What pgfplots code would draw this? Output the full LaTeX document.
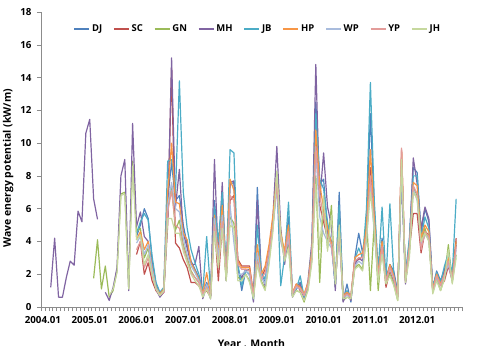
\documentclass[border=0pt]{standalone}
\usepackage{pgfplots}
\usepackage{pgfplotstable}
\pgfplotsset{compat=1.18}
\usepackage{fontspec}
\setmainfont{Open Sans}
\definecolor{cDJ}{HTML}{4F81BD}
\definecolor{cSC}{HTML}{C0504D}
\definecolor{cGN}{HTML}{9BBB59}
\definecolor{cMH}{HTML}{8064A2}
\definecolor{cJB}{HTML}{4BACC6}
\definecolor{cHP}{HTML}{F79646}
\definecolor{cWP}{HTML}{A9BCDD}
\definecolor{cYP}{HTML}{E39C9A}
\definecolor{cJH}{HTML}{C6D89E}
\pgfplotstableread{
m DJ SC GN MH JB HP WP YP JH
2 nan nan nan 1.2 nan nan nan nan nan
3 nan nan nan 4.2 nan nan nan nan nan
4 nan nan nan 0.6 nan nan nan nan nan
5 nan nan nan 0.6 nan nan nan nan nan
6 nan nan nan 1.8 nan nan nan nan nan
7 nan nan nan 2.8 nan nan nan nan nan
8 nan nan nan 2.55 nan nan nan nan nan
9 nan nan nan 5.85 nan nan nan nan nan
10 nan nan nan 5.2 nan nan nan nan nan
11 nan nan nan 10.6 nan nan nan nan nan
12 nan nan nan 11.45 nan nan nan nan nan
13 nan nan 1.75 6.6 nan nan nan nan nan
14 nan nan 4.1 5.35 nan nan nan nan nan
15 nan nan 1.1 nan nan nan nan nan nan
16 nan nan 2.5 0.9 nan nan nan nan nan
17 nan nan 0.6 0.4 nan nan nan nan 0.7
18 nan nan 1.0 1.2 nan nan nan nan 1.1
19 nan nan 2.2 2.4 nan nan nan nan 2.1
20 nan nan 6.9 8.0 nan nan nan nan 6.8
21 nan nan 7.0 9.0 nan nan nan nan 6.9
22 nan nan 1.2 1.0 nan nan nan nan 1.1
23 nan nan 8.9 11.2 nan nan nan nan 8.6
24 4.3 3.2 4.6 4.9 4.5 4.1 3.9 3.5 4.1
25 5.0 4.0 4.8 5.8 5.2 4.6 4.3 4.0 4.4
26 6.0 2.0 3.0 4.3 5.7 3.5 3.2 2.4 2.6
27 5.4 2.7 3.6 4.0 5.3 4.0 3.8 3.0 3.2
28 2.9 1.6 2.2 2.5 3.1 2.4 2.3 1.9 2.0
29 1.4 1.0 1.2 1.1 1.5 1.2 1.2 1.1 1.1
30 0.8 0.7 0.7 0.6 0.9 0.8 0.7 0.7 0.7
31 1.1 0.9 1.0 0.9 1.2 1.1 1.0 0.9 1.0
32 6.6 5.0 6.0 5.5 8.9 7.0 6.2 5.8 5.4
33 8.8 14.6 7.4 15.2 9.0 10.0 7.6 7.1 5.4
34 6.5 3.9 4.7 6.1 7.0 6.4 6.0 5.0 4.5
35 6.8 3.6 5.3 8.4 13.8 6.3 5.8 4.8 4.5
36 5.0 2.9 3.8 4.5 7.0 4.5 4.2 3.6 3.4
37 3.8 2.4 3.0 3.6 4.8 4.1 3.2 2.8 2.7
38 2.8 1.5 2.2 2.6 3.5 2.7 2.5 2.1 2.0
39 2.3 1.5 1.8 2.6 2.7 2.2 2.1 1.8 1.6
40 1.8 1.3 1.5 3.7 2.0 1.7 1.6 1.5 1.3
41 0.8 0.8 0.7 0.5 0.9 0.8 0.7 0.8 0.6
42 1.5 1.0 1.2 1.3 4.3 2.1 1.4 1.2 1.1
43 0.8 0.6 0.6 0.5 1.0 0.8 0.7 0.7 0.5
44 6.5 5.0 5.3 9.0 6.1 5.6 5.4 5.0 4.6
45 3.5 1.6 3.0 2.8 4.0 3.2 3.0 2.5 2.4
46 6.5 5.0 5.5 7.6 7.0 6.2 5.6 5.2 4.8
47 2.0 1.8 1.6 1.6 2.2 2.0 1.9 1.8 1.6
48 7.5 6.5 5.5 7.6 9.6 7.8 6.2 6.8 5.0
49 7.6 6.8 5.1 7.7 9.4 7.1 3.9 6.5 4.8
50 2.5 2.9 1.8 2.2 2.6 2.8 2.0 2.6 1.6
51 1.0 2.5 1.7 1.8 1.3 2.4 2.0 2.3 1.6
52 2.2 2.5 2.0 2.3 2.2 2.4 2.2 2.3 2.0
53 2.3 2.5 1.6 2.2 2.0 2.4 1.9 2.2 1.5
54 0.4 0.8 0.6 0.3 0.5 0.7 0.6 0.7 0.5
55 7.3 3.2 3.0 6.5 5.0 3.8 3.3 2.8 2.6
56 2.0 1.8 1.6 2.0 2.1 2.0 1.9 1.7 1.5
57 1.5 2.3 1.1 1.3 1.7 2.5 1.4 2.1 1.0
58 3.0 3.5 2.8 3.0 3.2 3.8 3.0 3.4 2.6
59 5.0 5.3 5.0 5.5 5.2 5.6 4.8 5.0 4.6
60 7.8 7.6 8.2 9.8 7.8 8.0 7.2 7.5 8.3
61 4.2 4.3 4.6 4.8 1.3 4.5 4.0 4.2 4.4
62 3.3 3.0 3.0 2.6 3.1 3.4 3.0 3.1 2.8
63 5.5 4.5 3.8 4.5 6.4 5.0 4.3 4.6 3.6
64 0.7 0.8 0.7 0.6 0.9 0.9 0.8 0.8 0.6
65 1.2 1.4 1.0 1.1 1.1 1.4 1.2 1.3 1.0
66 1.5 1.0 0.9 1.4 1.9 1.2 1.1 1.1 0.9
67 0.5 0.7 0.3 0.5 0.6 0.8 0.7 0.7 0.4
68 1.3 1.3 1.1 1.6 1.4 1.5 1.3 1.3 1.0
69 3.5 3.0 3.0 4.0 3.6 3.5 3.0 3.2 2.7
70 12.5 10.5 8.0 14.8 11.8 10.8 9.5 9.8 7.5
71 7.5 6.2 1.5 6.5 7.8 7.5 5.5 6.8 3.5
72 7.8 5.2 6.5 9.4 7.2 6.0 4.5 5.5 6.8
73 4.5 4.2 3.6 6.1 5.2 4.8 4.0 4.3 3.4
74 4.0 3.9 6.2 5.0 3.8 3.9 3.6 3.8 5.6
75 1.2 1.6 1.3 1.0 1.5 1.8 1.6 1.7 1.4
76 7.0 4.6 5.6 5.8 6.2 4.8 4.2 4.5 5.0
77 0.4 0.6 0.4 0.3 0.6 0.7 0.6 0.6 0.5
78 1.4 0.8 0.6 0.9 1.0 0.9 0.7 0.8 0.6
79 0.3 0.6 0.5 0.4 0.6 0.7 0.6 0.6 0.5
80 3.0 2.8 2.4 2.6 2.9 3.0 2.5 2.8 2.3
81 4.5 2.9 2.6 3.0 3.6 3.2 2.8 3.0 2.5
82 3.3 3.1 2.3 2.8 3.0 3.3 2.6 3.0 2.2
83 5.0 4.2 5.5 4.6 6.0 4.8 4.0 4.4 4.2
84 11.8 8.5 1.0 8.0 13.7 9.6 7.5 8.0 7.0
85 6.0 5.0 5.2 5.2 6.5 5.5 4.5 5.0 4.8
86 2.0 1.8 1.0 1.7 2.2 2.0 1.8 1.9 1.5
87 4.2 3.6 3.8 3.8 6.1 4.0 3.5 3.7 3.2
88 1.6 1.2 1.6 1.8 1.7 1.6 1.6 1.5 1.4
89 2.6 2.2 2.0 2.5 6.3 2.6 2.3 2.4 1.9
90 2.2 1.6 1.4 2.0 2.0 1.9 1.7 1.8 1.3
91 0.9 0.6 0.4 0.8 0.8 0.7 0.6 0.6 0.4
92 8.5 9.6 8.8 8.0 8.6 9.5 8.4 9.7 9.0
93 1.8 1.5 1.6 1.4 2.0 1.7 1.8 1.6 1.5
94 4.0 3.5 3.2 3.8 4.2 3.7 3.5 3.6 3.0
95 8.5 5.7 7.3 9.1 8.0 7.6 7.2 7.4 7.0
96 8.2 5.7 6.8 7.5 8.0 7.4 6.5 6.9 6.6
97 4.5 3.3 4.0 4.8 4.2 4.2 3.8 3.5 4.0
98 6.0 4.6 4.8 6.1 5.5 5.0 4.4 4.6 4.5
99 5.2 4.4 4.0 5.4 4.8 4.6 4.2 4.3 4.0
100 1.2 1.0 0.9 1.1 1.2 1.1 1.0 1.0 0.8
101 2.2 1.8 1.7 2.0 2.1 2.0 1.8 1.9 1.6
102 1.6 1.3 1.0 1.4 1.5 1.4 1.3 1.3 1.0
103 2.3 1.6 1.8 2.2 2.5 2.0 1.9 2.0 1.7
104 3.0 2.5 3.8 2.8 3.3 3.0 2.6 2.8 3.5
105 1.8 1.6 1.5 1.8 2.0 1.7 1.6 1.7 1.4
106 4.0 4.2 3.2 3.8 6.6 4.0 3.5 3.7 3.0
}\datatable
\begin{document}
\begin{tikzpicture}
\begin{axis}[
  width=421bp, height=295bp, scale only axis,
  xmin=-0.5, xmax=107.5, ymin=0, ymax=18,
  ytick={0,2,...,18},
  axis x line*=bottom, axis y line*=left,
  axis line style={-, draw=black!45, line width=0.6pt},
  tick align=outside,
  major tick length=4bp,
  tick style={draw=black!45, line width=0.5pt},
  xtick={-0.5,0.5,...,107.5},
  xticklabels={},
  extra x ticks={0,12,...,96},
  extra x tick labels={2004.01,2005.01,2006.01,2007.01,2008.01,2009.01,2010.01,2011.01,2012.01},
  extra x tick style={major tick length=0pt},
  /pgf/number format/assume math mode=true,
  ticklabel style={font=\bfseries\fontsize{9.8}{11}\selectfont, text=black},
  xticklabel style={yshift=-6bp},
  yticklabel style={xshift=-2bp},
  unbounded coords=jump,
  every axis plot/.append style={line width=1.2pt, no markers, line join=round},
  legend columns=9,
  legend style={at={(axis description cs:0.515,0.942)}, anchor=center, draw=none, fill=none,
    font=\bfseries\fontsize{9.5}{11}\selectfont,
    /tikz/every even column/.append style={column sep=9bp}},
  legend image code/.code={\draw[#1, line width=1.5pt] (0bp,0bp) -- (15bp,0bp);},
  xlabel={Year . Month},
  ylabel={Wave energy potential (kW/m)},
  every axis x label/.style={at={(axis description cs:0.5,-0.1)}, anchor=north, font=\bfseries\fontsize{10.5}{12}\selectfont},
  every axis y label/.style={at={(axis description cs:-0.078,0.47)}, rotate=90, anchor=center, font=\bfseries\fontsize{10.5}{12}\selectfont},
]
\addplot[color=cDJ] table[x=m, y=DJ] {\datatable}; \addlegendentry{DJ}
\addplot[color=cSC] table[x=m, y=SC] {\datatable}; \addlegendentry{SC}
\addplot[color=cGN] table[x=m, y=GN] {\datatable}; \addlegendentry{GN}
\addplot[color=cMH] table[x=m, y=MH] {\datatable}; \addlegendentry{MH}
\addplot[color=cJB] table[x=m, y=JB] {\datatable}; \addlegendentry{JB}
\addplot[color=cHP] table[x=m, y=HP] {\datatable}; \addlegendentry{HP}
\addplot[color=cWP] table[x=m, y=WP] {\datatable}; \addlegendentry{WP}
\addplot[color=cYP] table[x=m, y=YP] {\datatable}; \addlegendentry{YP}
\addplot[color=cJH] table[x=m, y=JH] {\datatable}; \addlegendentry{JH}
\end{axis}
\pgfresetboundingbox
\useasboundingbox ([shift={(-41bp,-39bp)}]current axis.south west) rectangle ([shift={(20bp,12bp)}]current axis.north east);
\end{tikzpicture}
\end{document}
